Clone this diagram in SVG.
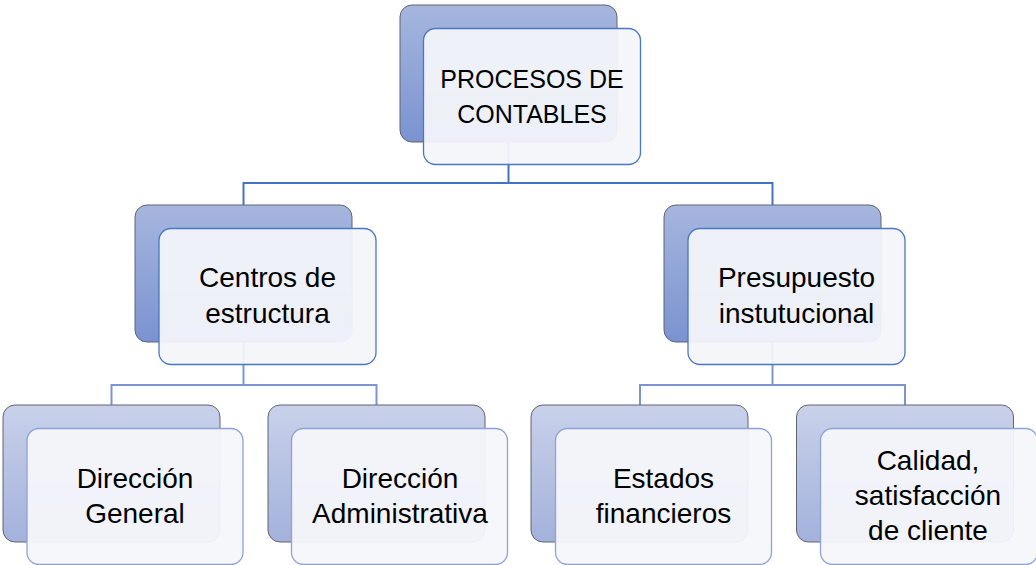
<svg xmlns="http://www.w3.org/2000/svg" width="1036" height="565" viewBox="0 0 1036 565">
<defs>
<linearGradient id="g1" x1="0" y1="0" x2="0" y2="1"><stop offset="0" stop-color="#a6b6de"/><stop offset="1" stop-color="#7a93d0"/></linearGradient>
<linearGradient id="g2" x1="0" y1="0" x2="0" y2="1"><stop offset="0" stop-color="#c9d1ea"/><stop offset="1" stop-color="#a3b2dc"/></linearGradient>
<style>
.b1{fill:url(#g1);stroke:#5f6470;stroke-width:1}
.b2{fill:url(#g2);stroke:#5f6470;stroke-width:1}
.f1{fill:#f4f5fa;fill-opacity:0.94;stroke:#4a76c6;stroke-width:1.3}
.f2{fill:#f5f6fb;fill-opacity:0.94;stroke:#8ea2d8;stroke-width:1.3}
.t{font-family:"Liberation Sans",Arial,sans-serif;font-size:28px;fill:#000;text-anchor:middle}
.tc{font-size:25px}
.c1{fill:none;stroke:#4472c4;stroke-width:2}
.c2{fill:none;stroke:#7c95d2;stroke-width:2}
</style>
</defs>
<rect width="1036" height="565" fill="#fff"/>
<g id="connectors">
<path class="c1" d="M508.5 142V183M243.5 205V183H772.5V205"/>
<path class="c2" d="M243.5 342V385M111.5 405V385H376.5V405"/>
<path class="c2" d="M772.5 342V385M640 405V385H905V405"/>
</g>
<g id="n-top">
<rect class="b1" x="400" y="5" width="217" height="137" rx="12"/>
<rect class="f1" x="423.5" y="28.5" width="217" height="136" rx="12"/>
<text class="t tc"><tspan x="532" y="88">PROCESOS DE</tspan><tspan x="532" y="123">CONTABLES</tspan></text>
</g>
<g id="n-centros">
<rect class="b1" x="135" y="205" width="217" height="137" rx="12"/>
<rect class="f1" x="159" y="228.5" width="217" height="136" rx="12"/>
<text class="t"><tspan x="267.5" y="287">Centros de</tspan><tspan x="267.5" y="323">estructura</tspan></text>
</g>
<g id="n-presupuesto">
<rect class="b1" x="664" y="205" width="217" height="137" rx="12"/>
<rect class="f1" x="688" y="228.5" width="217" height="136" rx="12"/>
<text class="t"><tspan x="796.5" y="287">Presupuesto</tspan><tspan x="796.5" y="323">instutucional</tspan></text>
</g>
<g id="n-dirgen">
<rect class="b2" x="3" y="405" width="217" height="137" rx="12"/>
<rect class="f2" x="27" y="428.5" width="216" height="136" rx="12"/>
<text class="t"><tspan x="135" y="488">Dirección</tspan><tspan x="135" y="523">General</tspan></text>
</g>
<g id="n-diradm">
<rect class="b2" x="268" y="405" width="217" height="137" rx="12"/>
<rect class="f2" x="291.5" y="428.5" width="216" height="136" rx="12"/>
<text class="t"><tspan x="400" y="488">Dirección</tspan><tspan x="400" y="523">Administrativa</tspan></text>
</g>
<g id="n-estados">
<rect class="b2" x="531" y="405" width="217" height="137" rx="12"/>
<rect class="f2" x="555.5" y="428.5" width="216" height="136" rx="12"/>
<text class="t"><tspan x="663.5" y="488">Estados</tspan><tspan x="663.5" y="523">financieros</tspan></text>
</g>
<g id="n-calidad">
<rect class="b2" x="796.5" y="405" width="217" height="137" rx="12"/>
<rect class="f2" x="820.5" y="428.5" width="217" height="136" rx="12"/>
<text class="t"><tspan x="928" y="470">Calidad,</tspan><tspan x="928" y="505">satisfacción</tspan><tspan x="928" y="540">de cliente</tspan></text>
</g>
</svg>
